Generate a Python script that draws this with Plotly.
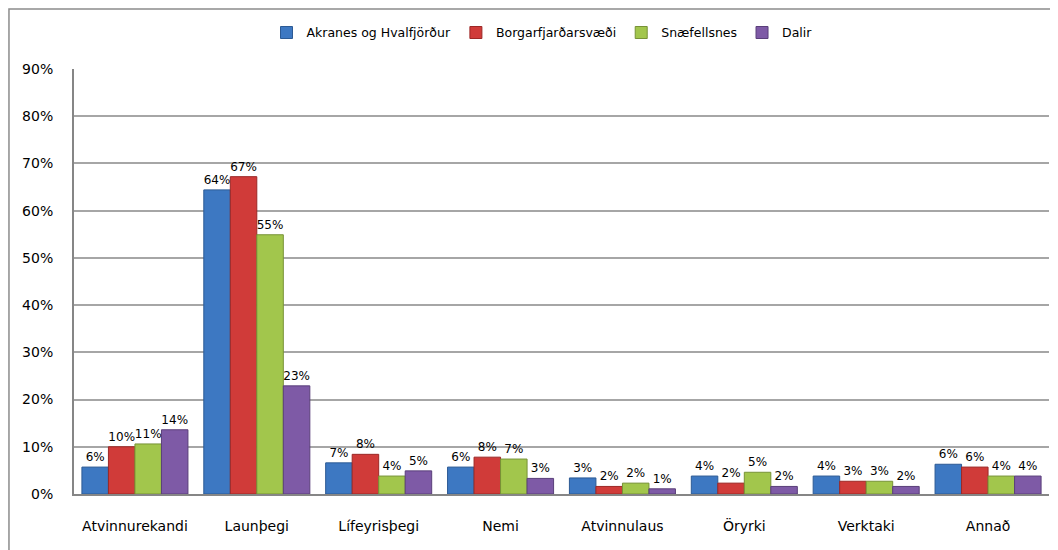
import plotly.graph_objects as go

categories = ["Atvinnurekandi", "Launþegi", "Lífeyrisþegi", "Nemi",
              "Atvinnulaus", "Öryrki", "Verktaki", "Annað"]

series_names = ["Akranes og Hvalfjörður", "Borgarfjarðarsvæði", "Snæfellsnes", "Dalir"]

akranes = [0.057, 0.644, 0.066, 0.057, 0.034, 0.038, 0.038, 0.063]
borgarfjordur = [0.100, 0.672, 0.084, 0.078, 0.016, 0.023, 0.027, 0.057]
snaefellsnes = [0.106, 0.549, 0.038, 0.074, 0.023, 0.046, 0.027, 0.038]
dalir = [0.136, 0.229, 0.049, 0.033, 0.011, 0.016, 0.016, 0.038]

values = [akranes, borgarfjordur, snaefellsnes, dalir]
colors = ["#3d78c2", "#d03b39", "#a2c64c", "#7e5aa6"]
edges = ["#2c5a94", "#9c2826", "#779236", "#5a3f7a"]

font_family = "DejaVu Sans"

fig = go.Figure()
for name, vals, col, edge in zip(series_names, values, colors, edges):
    fig.add_trace(go.Bar(
        x=categories, y=vals, name=name,
        marker=dict(color=col, line=dict(color=edge, width=1)),
        texttemplate="%{y:.0%}", textposition="outside",
        textfont=dict(family=font_family, size=12, color="#000000"),
        cliponaxis=False,
    ))

# the page body has an 8px margin, so the figure is sized to fit inside it
fig.update_layout(
    barmode="group",
    bargap=0.13,
    bargroupgap=0,
    width=1050, height=542,
    margin=dict(l=66, r=9, t=61, b=56, autoexpand=False),
    paper_bgcolor="white",
    plot_bgcolor="white",
    font=dict(family=font_family, size=14, color="#000000"),
    legend=dict(orientation="h", x=0.48, xanchor="center", y=1.085, yanchor="middle",
                font=dict(size=12.5), itemwidth=30, traceorder="normal",
                bgcolor="rgba(0,0,0,0)"),
    uniformtext=dict(minsize=12, mode="show"),
)

fig.update_yaxes(range=[0, 0.9], dtick=0.1, tickformat=".0%",
                 showgrid=True, gridcolor="#a6a6a6", gridwidth=1.5,
                 showline=True, linecolor="#868686", linewidth=2,
                 ticks="", ticklen=0, zeroline=False,
                 ticklabelstandoff=16, tickfont=dict(size=14))
fig.update_xaxes(showline=True, linecolor="#868686", linewidth=2,
                 ticks="", ticklabelstandoff=18, tickfont=dict(size=14))

# outer chart frame
fig.add_shape(type="rect", xref="paper", yref="paper",
              x0=-0.0667, x1=1.05, y0=-0.3, y1=1.141,
              line=dict(color="#8c8c8c", width=1.5), fillcolor="rgba(0,0,0,0)",
              layer="below")

fig.write_html("out.html")
